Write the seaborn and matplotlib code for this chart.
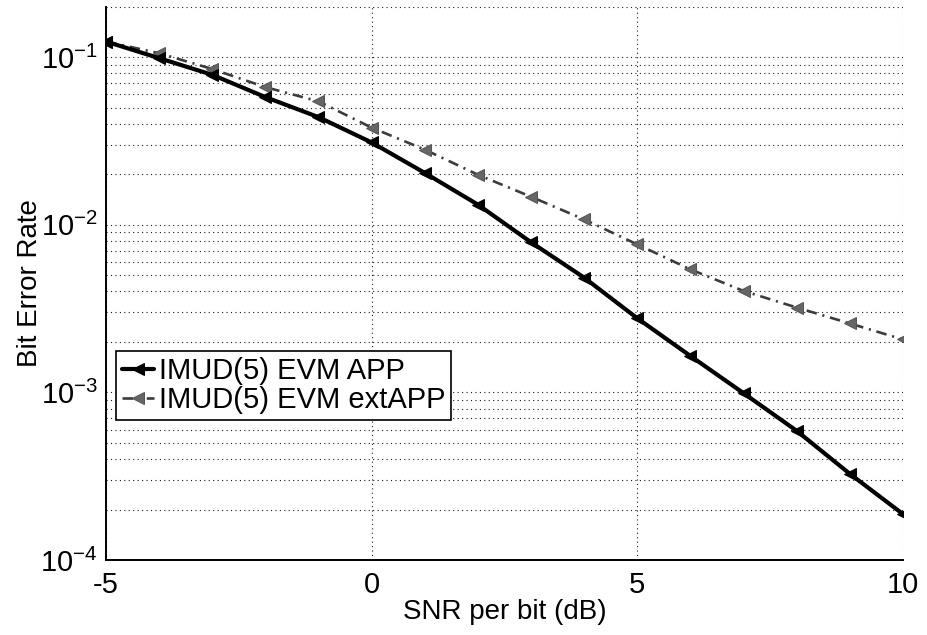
import numpy as np
import pandas as pd
import matplotlib
matplotlib.use("Agg")
import matplotlib.pyplot as plt
from matplotlib.ticker import LogLocator, NullFormatter, LogFormatterMathtext, FixedLocator
import seaborn as sns

# SNR per bit (dB) and measured bit error rates
snr_db = [-5, -4, -3, -2, -1, 0, 1, 2, 3, 4, 5, 6, 7, 8, 9, 10]
ber_app = [0.124, 0.0987, 0.0785, 0.0578, 0.0439, 0.0310, 0.0204, 0.0132,
           0.00787, 0.00484, 0.00277, 0.00165, 0.00099, 0.00059, 0.000327, 0.000188]
ber_extapp = [0.124, 0.1056, 0.0850, 0.0663, 0.0545, 0.0380, 0.0281, 0.0199,
              0.0147, 0.01076, 0.00764, 0.00542, 0.00403, 0.00321, 0.00258, 0.00207]
series_names = ["IMUD(5) EVM APP", "IMUD(5) EVM extAPP"]
x_ticks = [-5, 0, 5, 10]

sns.set_style("white")
plt.rcParams["font.family"] = ["Liberation Sans", "DejaVu Sans"]
plt.rcParams["mathtext.fontset"] = "custom"
plt.rcParams["mathtext.rm"] = "Liberation Sans"
plt.rcParams["mathtext.it"] = "Liberation Sans:italic"
plt.rcParams["mathtext.default"] = "regular"
plt.rcParams["axes.unicode_minus"] = False
plt.rcParams["text.color"] = "black"
plt.rcParams["axes.labelcolor"] = "black"

df_app = pd.DataFrame({"snr": snr_db, "ber": ber_app})
df_ext = pd.DataFrame({"snr": snr_db, "ber": ber_extapp})

fig = plt.figure(figsize=(9.27, 6.35), dpi=100)
ax = fig.add_axes([0.1143, 0.1181, 0.8597, 0.8713])

sns.lineplot(data=df_app, x="snr", y="ber", ax=ax, color="black",
             linewidth=3.0, marker="<", markersize=9,
             markeredgecolor="black", markerfacecolor="black",
             label=series_names[0], zorder=4)
sns.lineplot(data=df_ext, x="snr", y="ber", ax=ax, color="#3c3c3c",
             linewidth=1.9, linestyle=(0, (4, 2.2, 0.8, 2.2)), marker="<",
             markersize=9, markeredgecolor="#555555", markerfacecolor="#666666",
             label=series_names[1], zorder=3)

ax.set_yscale("log")
ax.set_xlim(-5, 10)
ax.set_ylim(1e-4, 0.2)
ax.xaxis.set_major_locator(FixedLocator(x_ticks))
ax.yaxis.set_major_locator(LogLocator(base=10, numticks=10))
ax.yaxis.set_major_formatter(LogFormatterMathtext())
ax.yaxis.set_minor_locator(LogLocator(base=10, subs=np.arange(2, 10), numticks=20))
ax.yaxis.set_minor_formatter(NullFormatter())

grid_kw = dict(color="#1a1a1a", linestyle=(0, (1, 3)), linewidth=0.8)
ax.grid(True, which="major", axis="both", **grid_kw)
ax.grid(True, which="minor", axis="y", **grid_kw)
ax.set_axisbelow(True)

for side in ["top", "right"]:
    ax.spines[side].set_visible(False)
for side in ["left", "bottom"]:
    ax.spines[side].set_linewidth(1.4)
    ax.spines[side].set_color("black")

ax.tick_params(axis="both", which="major", direction="in", length=8, width=1.2,
               labelsize=21, colors="black", pad=6)
ax.tick_params(axis="y", which="minor", direction="in", length=4, width=1.0)
ax.tick_params(axis="x", pad=8)

ax.set_xlabel("SNR per bit (dB)", fontsize=20, labelpad=0, color="black")
ax.set_ylabel("Bit Error Rate", fontsize=20, labelpad=-2, color="black")

leg = ax.legend(loc="lower left", bbox_to_anchor=(0.013, 0.253), fontsize=21,
                frameon=True, fancybox=False, framealpha=1, edgecolor="black",
                handlelength=1.1, handletextpad=0.15, borderpad=0.2,
                labelspacing=0.05, borderaxespad=0)
leg.get_frame().set_linewidth(1.2)
for t in leg.get_texts():
    t.set_color("black")

fig.savefig("out.png", dpi=100)
